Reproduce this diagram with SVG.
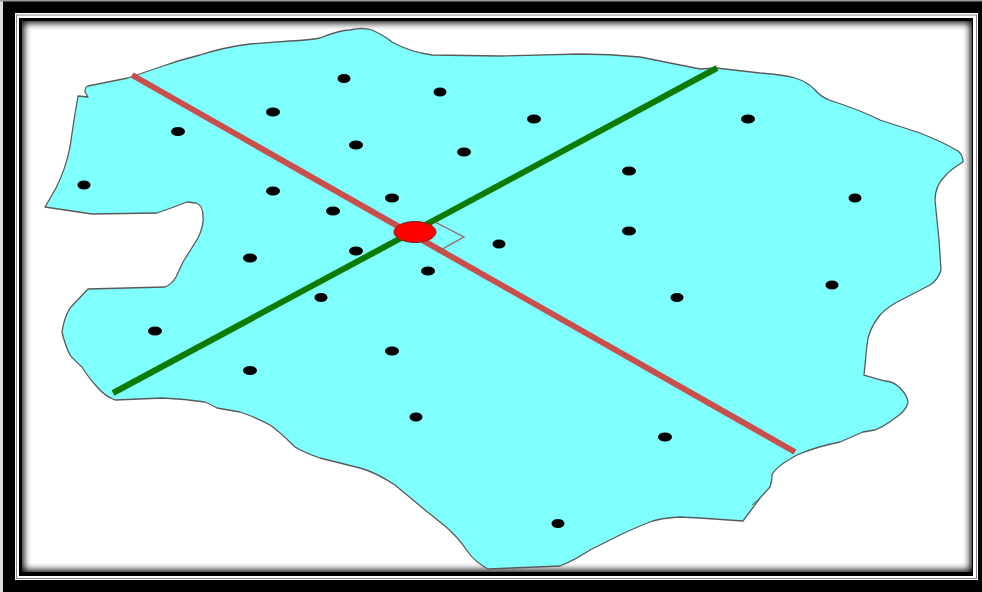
<svg xmlns="http://www.w3.org/2000/svg" width="982" height="592" viewBox="0 0 982 592">
<defs>
<filter id="b5" x="-5%" y="-5%" width="110%" height="110%"><feGaussianBlur stdDeviation="3.500"/></filter>
<filter id="s" x="-5%" y="-5%" width="110%" height="110%"><feGaussianBlur stdDeviation="0.600"/></filter>
<clipPath id="inner"><rect x="22" y="21" width="950" height="551"/></clipPath>
</defs>
<style>
.dot{fill:#000}
</style>
<rect width="982" height="592" fill="#000"/>
<rect x="0" y="0" width="3" height="592" fill="#ddd"/>
<rect x="0" y="0" width="982" height="1.500" fill="#999"/>
<rect x="15" y="13" width="963" height="567" fill="#fff"/>
<rect x="16.500" y="15" width="960" height="563.500" fill="none" stroke="#888" stroke-width="1"/>
<rect x="19" y="18" width="954" height="558" fill="#000"/>
<rect x="22" y="21" width="950" height="551" fill="#fff"/>
<g clip-path="url(#inner)"><rect x="20" y="19" width="954" height="555" fill="none" stroke="#000" stroke-width="8" filter="url(#b5)"/></g>
<g id="map" filter="url(#s)">
<path id="region" fill="#80ffff" stroke="#5a5a5a" stroke-width="1.300" stroke-linejoin="round" d="M45 207L56 188Q66 168 70 147L74 120L78 96L88 97L85 92Q85 87 88 86L128 78L163 66Q180 60 200 55Q225 47 250 44L290 41Q310 40 320 38Q340 30 350 30Q362 27 372 30Q385 36 392 42Q410 52 432 55L500 56L580 54Q610 54 640 57L700 69L716 68L760 73Q785 75 795 78Q808 82 815 90Q822 98 832 101Q860 110 880 120L920 133Q945 143 958 151Q963 155 963 162Q950 170 945 176Q935 186 935 200L939 240L941 270Q938 280 930 285L905 298Q888 306 880 315Q868 330 867 345L864 375L885 381Q893 381 900 388Q908 396 908 403Q905 412 895 418Q885 426 875 430L863 432L840 442Q815 447 797 455Q775 467 772 475Q772 482 770 487L760 498L743 521L700 518L680 517Q660 518 650 522Q630 530 620 535L590 550Q575 560 560 566L488 569Q475 562 468 552Q458 537 445 526L425 510L395 485Q375 472 360 468L320 458Q305 453 295 447Q280 432 270 425Q255 417 240 412L217 408Q210 404 205 402Q185 399 163 398L115 400Q105 396 98 388Q88 377 82 367Q72 358 70 355Q65 345 62 332Q64 318 70 308L88 289L165 287Q172 284 176 277L183 262L198 238Q204 225 203 217Q203 205 196 203L187 202Q172 208 157 213L92 214Z"/>
<path d="M752 505L760 498" fill="none" stroke="#5a5a5a" stroke-width="1"/>
<g id="connectors" fill="none">
<line x1="132" y1="75" x2="795" y2="452" stroke="#c8504b" stroke-width="6"/>
<line x1="113" y1="393" x2="717" y2="68" stroke="#0a7a00" stroke-width="6"/>
<path d="M435 222L464 237L437 252" stroke="#a05a60" stroke-width="1.300"/>
</g>
<g id="center"><ellipse cx="415" cy="232" rx="21" ry="10.500" fill="#f00" stroke="#802020" stroke-width="1"/></g>
<g id="dots" class="dot">
<ellipse cx="344" cy="78.500" rx="6.500" ry="4.500"/>
<ellipse cx="440" cy="92" rx="6.500" ry="4.500"/>
<ellipse cx="273" cy="112" rx="7" ry="4.500"/>
<ellipse cx="534" cy="119" rx="7" ry="4.500"/>
<ellipse cx="748" cy="119" rx="7" ry="4.500"/>
<ellipse cx="178" cy="131.500" rx="7" ry="4.500"/>
<ellipse cx="356" cy="145" rx="7" ry="4.500"/>
<ellipse cx="464" cy="152" rx="7" ry="4.500"/>
<ellipse cx="629" cy="171" rx="7" ry="4.500"/>
<ellipse cx="84" cy="185" rx="6.500" ry="4.500"/>
<ellipse cx="273" cy="191" rx="7" ry="4.500"/>
<ellipse cx="392" cy="198" rx="7" ry="4.500"/>
<ellipse cx="855" cy="198" rx="6.500" ry="4.500"/>
<ellipse cx="333" cy="211" rx="7" ry="4.500"/>
<ellipse cx="629" cy="231" rx="7" ry="4.500"/>
<ellipse cx="499" cy="244" rx="6.500" ry="4.500"/>
<ellipse cx="356" cy="251" rx="7" ry="4.500"/>
<ellipse cx="250" cy="258" rx="7" ry="4.500"/>
<ellipse cx="428" cy="271" rx="7" ry="4.500"/>
<ellipse cx="832" cy="285" rx="6.500" ry="4.500"/>
<ellipse cx="321" cy="297.500" rx="6.500" ry="4.500"/>
<ellipse cx="677" cy="297.500" rx="6.500" ry="4.500"/>
<ellipse cx="155" cy="331" rx="7" ry="4.500"/>
<ellipse cx="392" cy="351" rx="7" ry="4.500"/>
<ellipse cx="250" cy="370.500" rx="7" ry="4.500"/>
<ellipse cx="416" cy="417" rx="6.500" ry="4.500"/>
<ellipse cx="665" cy="437" rx="7" ry="4.500"/>
<ellipse cx="558" cy="523.500" rx="6.500" ry="4.500"/>
</g>
</g>
</svg>
